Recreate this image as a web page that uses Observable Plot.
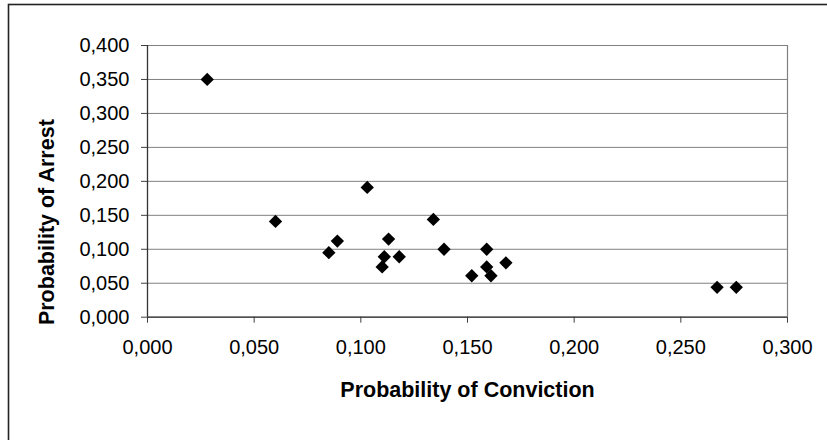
<!DOCTYPE html>
<html>
<head>
<meta charset="utf-8">
<script src="https://cdn.jsdelivr.net/npm/d3@7"></script>
<script src="https://cdn.jsdelivr.net/npm/@observablehq/plot@0.6"></script>
<style>
  html, body { margin: 0; padding: 0; background: #fff; }
  #chart svg { display: block; font-family: "Liberation Sans", Arial, sans-serif; }
</style>
</head>
<body>
<div id="chart"></div>
<script>
// Data
const conviction = [0.028, 0.060, 0.085, 0.089, 0.103, 0.110, 0.111, 0.113, 0.118, 0.134, 0.139, 0.152, 0.159, 0.159, 0.161, 0.168, 0.267, 0.276];
const arrest     = [0.350, 0.141, 0.095, 0.112, 0.191, 0.074, 0.089, 0.115, 0.089, 0.144, 0.100, 0.061, 0.100, 0.074, 0.061, 0.080, 0.044, 0.044];
const xTicks = [0, 0.05, 0.1, 0.15, 0.2, 0.25, 0.3];
const yTicks = [0, 0.05, 0.1, 0.15, 0.2, 0.25, 0.3, 0.35, 0.4];
const xTitle = "Probability of Conviction";
const yTitle = "Probability of Arrest";

const points = conviction.map((c, i) => ({conviction: c, arrest: arrest[i]}));
const fmt = v => d3.format(".3f")(v).replace(".", ",");

const chart = Plot.plot({
  width: 827,
  height: 440,
  marginLeft: 147,
  marginRight: 40,
  marginTop: 45,
  marginBottom: 123.3,
  style: {fontFamily: "'Liberation Sans', Arial, sans-serif", background: "#fff"},
  x: {domain: [0, 0.3]},
  y: {domain: [0, 0.4]},
  marks: [
    Plot.gridY(yTicks, {stroke: "#808080", strokeOpacity: 1, strokeWidth: 1}),
    Plot.ruleX([0.3], {stroke: "#808080", strokeWidth: 1.2}),
    Plot.axisY(yTicks, {tickSize: 6, tickPadding: 12, tickFormat: fmt, fontSize: 20, fill: "#000", stroke: "#404040", label: null}),
    Plot.axisX(xTicks, {tickSize: 6, tickPadding: 17, tickFormat: fmt, fontSize: 20, fill: "#000", stroke: "#404040", label: null}),
    Plot.ruleX([0], {stroke: "#333", strokeWidth: 1.3}),
    Plot.ruleY([0], {stroke: "#333", strokeWidth: 1.3}),
    Plot.dot(points, {x: "conviction", y: "arrest", symbol: "diamond2", r: 6, fill: "#000", stroke: "none"}),
    Plot.text([xTitle], {frameAnchor: "bottom", textAnchor: "middle", lineAnchor: "middle", dy: 72.5, fontSize: 21.5, fontWeight: "bold", fill: "#000"}),
    Plot.text([yTitle], {frameAnchor: "left", textAnchor: "middle", lineAnchor: "middle", dx: -100, dy: 40.8, rotate: -90, fontSize: 21.5, fontWeight: "bold", fill: "#000"})
  ]
});

// outer chart-area border (right/bottom edges fall outside the picture)
d3.select(chart).insert("rect", ":first-child")
  .attr("x", 8.5).attr("y", 4.5)
  .attr("width", 900).attr("height", 600)
  .attr("fill", "none").attr("stroke", "#222").attr("stroke-width", 1.6);

document.getElementById("chart").append(chart);
</script>
</body>
</html>
